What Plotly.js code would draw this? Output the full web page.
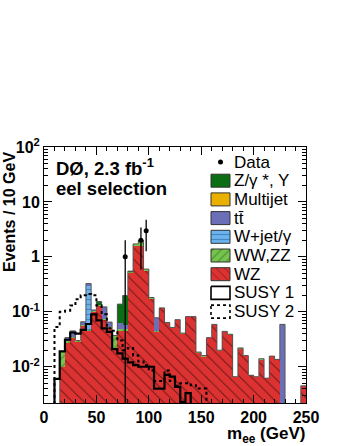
<!DOCTYPE html>
<html><head><meta charset="utf-8">
<script src="https://cdn.plot.ly/plotly-3.0.1.min.js"></script>
<style>html,body{margin:0;padding:0;background:#fff}#chart{width:345px;height:446px}</style>
</head><body><div id="chart"></div>
<script>
// bin centers (5 GeV bins, 0-250 GeV)
const binCenters = [2.5,7.5,12.5,17.5,22.5,27.5,32.5,37.5,42.5,47.5,
  52.5,57.5,62.5,67.5,72.5,77.5,82.5,87.5,92.5,97.5,
  102.5,107.5,112.5,117.5,122.5,127.5,132.5,137.5,142.5,147.5,
  152.5,157.5,162.5,167.5,172.5,177.5,182.5,187.5,192.5,197.5,
  202.5,207.5,212.5,217.5,222.5,227.5,232.5,237.5,242.5,247.5];
const binWidth = 5;
const wz = [0,0,0,0.010,0.027,0.033,0.028,0.055,0.045,0.10,
  0.13,0.07,0.05,0.022,0.045,0.045,0.5,1.6,1.6,0.55,
  0.17,0.043,0.115,0.062,0.05,0.07,0.04,0.08,0.08,0.0175,
  0.015,0.033,0.057,0.019,0.043,0.038,0.0066,0.021,0.016,0.007,
  0.0066,0.013,0.0062,0.0156,0.0136,0,0,0,0,0.0045];
const wwzz = [0,0,0,0.009,0.003,0.002,0.002,0.003,0.002,0.003,
  0.004,0.003,0.003,0.015,0.003,0.003,0.03,0.1,0.35,0.05,
  0.012,0.002,0.003,0.002,0.002,0.002,0.001,0.002,0.002,0.001,
  0.001,0.001,0.002,0.001,0.001,0.001,0,0.001,0,0,
  0,0.001,0,0,0,0,0,0,0,0];
const wjet = [0,0,0,0,0,0,0,0,0.25,0,
  0,0,0,0,0,0,0,0,0,0,
  0,0,0,0,0,0,0,0,0,0,
  0,0,0,0,0,0,0,0,0,0,
  0,0,0,0,0,0,0,0,0,0];
const ttbar = [0,0,0,0,0.004,0.01,0,0.008,0.03,0.005,
  0,0.05,0.012,0,0.015,0.01,0,0,0,0,
  0,0.033,0,0,0,0,0,0,0,0,
  0,0,0,0,0,0,0,0,0,0,
  0,0,0,0,0,0.059,0,0,0,0];
const multijet = [0,0,0,0,0,0,0,0,0,0,
  0,0,0,0,0,0,0,0,0,0,
  0,0,0,0,0,0,0,0,0,0,
  0,0,0,0,0,0,0,0,0,0,
  0,0,0,0,0,0,0,0,0,0];
const zgamma = [0,0,0,0,0,0,0,0,0,0,
  0.02,0,0,0,0.075,0.14,0.02,0.02,0.05,0,
  0,0,0,0,0,0,0,0,0,0,
  0,0,0,0,0,0,0,0,0,0,
  0,0,0,0,0,0,0,0,0,0];
const susy1 = [0,0,0.006,0.019,0.031,0.042,0.04,0.047,0.06,0.09,
  0.07,0.05,0.043,0.021,0.0175,0.014,0.012,0.0107,0.01,0.01,
  0.01,0.004,0.004,0.0071,0.0066,0.0043,0.0023,0.0033,0,0,
  0,0,0,0,0,0,0,0,0,0,
  0,0,0,0,0,0,0,0,0,0];
const susy2 = [0,0,0.053,0.10,0.105,0.13,0.17,0.2,0.21,0.2,
  0.13,0.09,0.05,0.045,0.03,0.02,0.022,0.016,0.0124,0.0107,
  0.0085,0.0055,0.0055,0.0085,0.0055,0.0045,0.005,0.005,0.0046,0.004,
  0.004,0,0,0,0,0,0,0,0,0,
  0,0,0,0,0,0,0,0,0,0];
const dataMass = [77.5, 92.5, 97.5];
const dataEvents = [1, 2, 3];
const dataErr = [1, 1.41, 1.73];
const xTickVals = [0,50,100,150,200,250];
const yTickVals = [0.01,0.1,1,10,100];
const yTickText = ['10<sup>-2</sup>','10<sup>-1</sup>','1','10','10<sup>2</sup>'];

const FONT = 'Liberation Sans, Arial, Helvetica, sans-serif';
const yMinLog = -2.66, yMaxLog = 2;
const FLOOR = 1e-5;

const comps = [
  {name:'WZ', y:wz, color:'#dc3232', pat:{shape:'\\', fgcolor:'#000', size:8, solidity:0.12}},
  {name:'WW,ZZ', y:wwzz, color:'#74c44e', pat:{shape:'/', fgcolor:'#2b5e1c', size:6, solidity:0.2}},
  {name:'W+jet/γ', y:wjet, color:'#6cb4ee', pat:{shape:'-', fgcolor:'#1f5c9c', size:5, solidity:0.25}},
  {name:'tt̄', y:ttbar, color:'#6a6fb8'},
  {name:'Multijet', y:multijet, color:'#eab000'},
  {name:'Z/γ *, Υ', y:zgamma, color:'#0b6e14'}
];

const traces = [];
comps.forEach(c => {
  const m = {color:c.color, line:{width:0}};
  if (c.pat) m.pattern = Object.assign({fillmode:'overlay'}, c.pat);
  traces.push({type:'bar', x:binCenters, y:c.y, width:binWidth, marker:m, showlegend:false, hoverinfo:'skip'});
});

function stepLine(vals){
  const xs = binCenters.map(c => c - binWidth/2);
  xs.push(binCenters[binCenters.length-1] + binWidth/2);
  const ys = vals.map(v => v > 0 ? v : FLOOR);
  ys.push(ys[ys.length-1]);
  return {x:xs, y:ys};
}
const total = binCenters.map((_, i) => comps.reduce((s, c) => s + c.y[i], 0));
const tl = stepLine(total);
traces.push({type:'scatter', mode:'lines', x:tl.x, y:tl.y, line:{shape:'hv', color:'#555', width:1}, showlegend:false, hoverinfo:'skip'});
const s1 = stepLine(susy1);
traces.push({type:'scatter', mode:'lines', x:s1.x, y:s1.y, line:{shape:'hv', color:'#000', width:2.2}, showlegend:false, hoverinfo:'skip'});
const s2 = stepLine(susy2);
traces.push({type:'scatter', mode:'lines', x:s2.x, y:s2.y, line:{shape:'hv', color:'#000', width:2, dash:'dot'}, showlegend:false, hoverinfo:'skip'});
traces.push({type:'scatter', mode:'markers', x:dataMass, y:dataEvents,
  marker:{color:'#000', size:5},
  error_y:{type:'data', symmetric:false, array:dataErr,
    arrayminus:dataEvents.map((v,i)=> Math.min(dataErr[i], v - FLOOR)),
    width:0, thickness:1.3, color:'#000'},
  showlegend:false, hoverinfo:'skip'});

// manual legend (pixel coordinates via overlay axes)
const legendItems = [
  {label:'Data', kind:'dot'},
  {label:'Z/γ *, Υ', comp:5},
  {label:'Multijet', comp:4},
  {label:'tt̄', comp:3},
  {label:'W+jet/γ', comp:2},
  {label:'WW,ZZ', comp:1},
  {label:'WZ', comp:0},
  {label:'SUSY 1', kind:'box', dash:'solid'},
  {label:'SUSY 2', kind:'box', dash:'dot'}
];
const L = {x0:211, x1:230, row0:162, dy:18.7, h:13, tx:232};
const annotations = [];
legendItems.forEach((it, i) => {
  const cy = L.row0 + i*L.dy;
  const bx = [L.x0, L.x1, L.x1, L.x0, L.x0];
  const by = [cy-L.h/2, cy-L.h/2, cy+L.h/2, cy+L.h/2, cy-L.h/2];
  if (it.kind === 'dot') {
    traces.push({type:'scatter', mode:'markers', x:[(L.x0+L.x1)/2], y:[cy], xaxis:'x2', yaxis:'y2',
      marker:{color:'#000', size:5}, showlegend:false, hoverinfo:'skip'});
  } else if (it.kind === 'box') {
    traces.push({type:'scatter', mode:'lines', x:bx, y:by, xaxis:'x2', yaxis:'y2', fill:'toself',
      fillcolor:'#fff', line:{color:'#000', width:1.6, dash:it.dash}, showlegend:false, hoverinfo:'skip'});
  } else {
    const c = comps[it.comp];
    const t = {type:'scatter', mode:'lines', x:bx, y:by, xaxis:'x2', yaxis:'y2', fill:'toself',
      fillcolor:c.color, line:{color:'#333', width:1}, showlegend:false, hoverinfo:'skip'};
    if (c.pat) t.fillpattern = Object.assign({fillmode:'overlay'}, c.pat, {size: Math.min(c.pat.size, 6)});
    traces.push(t);
  }
  annotations.push({xref:'x2', yref:'y2', x:L.tx, y:cy, xanchor:'left', yanchor:'middle',
    text:it.label, showarrow:false, font:{family:FONT, size:17, color:'#000'}});
});

const W = 345, H = 446, ml = 44, mr = 39, mt = 147, mb = 43;
const pw = W-ml-mr, ph = H-mt-mb;
const px = v => (v-ml)/pw, py = v => (H-mb-v)/ph;
annotations.push({xref:'paper', yref:'paper', x:px(54), y:py(167), xanchor:'left', yanchor:'middle',
  text:'<b>DØ, 2.3 fb<sup>-1</sup></b>', showarrow:false, font:{family:FONT, size:18.5, color:'#000'}});
annotations.push({xref:'paper', yref:'paper', x:px(54), y:py(188), xanchor:'left', yanchor:'middle',
  text:'<b>eel selection</b>', showarrow:false, font:{family:FONT, size:18.5, color:'#000'}});
annotations.push({xref:'paper', yref:'paper', x:px(9), y:py(212), xanchor:'center', yanchor:'middle', textangle:-90,
  text:'<b>Events / 10 GeV</b>', showarrow:false, font:{family:FONT, size:16, color:'#000'}});
annotations.push({xref:'paper', yref:'paper', x:px(307), y:py(435), xanchor:'right', yanchor:'middle',
  text:'<b>m<sub>ee</sub> (GeV)</b>', showarrow:false, font:{family:FONT, size:17, color:'#000'}});

const minorY = [];
for (let d = -3; d <= 1; d++) for (let k = 2; k <= 9; k++) minorY.push(k*Math.pow(10, d));

const layout = {
  width:W, height:H, margin:{l:ml, r:mr, t:mt, b:mb, pad:0},
  paper_bgcolor:'#fff', plot_bgcolor:'#fff', barmode:'stack', bargap:0, showlegend:false,
  font:{family:FONT, color:'#000'},
  xaxis:{range:[0,250], tickmode:'array', tickvals:xTickVals, ticks:'inside', ticklen:8, tickwidth:1,
    tickcolor:'#000', showline:true, linecolor:'#000', linewidth:1, mirror:'allticks', showgrid:false, zeroline:false,
    tickfont:{family:FONT, size:16, weight:'bold'},
    minor:{dtick:10, ticks:'inside', ticklen:4, tickcolor:'#000', showgrid:false}},
  yaxis:{type:'log', range:[yMinLog, yMaxLog], tickmode:'array', tickvals:yTickVals, ticktext:yTickText,
    ticks:'inside', ticklen:8, tickwidth:1, tickcolor:'#000', showline:true, linecolor:'#000', linewidth:1,
    mirror:'allticks', showgrid:false, zeroline:false, tickfont:{family:FONT, size:16, weight:'bold'},
    minor:{tickmode:'array', tickvals:minorY, ticks:'inside', ticklen:4, tickcolor:'#000', showgrid:false}},
  xaxis2:{overlaying:'x', range:[ml, W-mr], visible:false, fixedrange:true},
  yaxis2:{overlaying:'y', range:[H-mb, mt], visible:false, fixedrange:true},
  annotations:annotations
};
Plotly.newPlot('chart', traces, layout, {staticPlot:true, displayModeBar:false});
</script></body></html>
